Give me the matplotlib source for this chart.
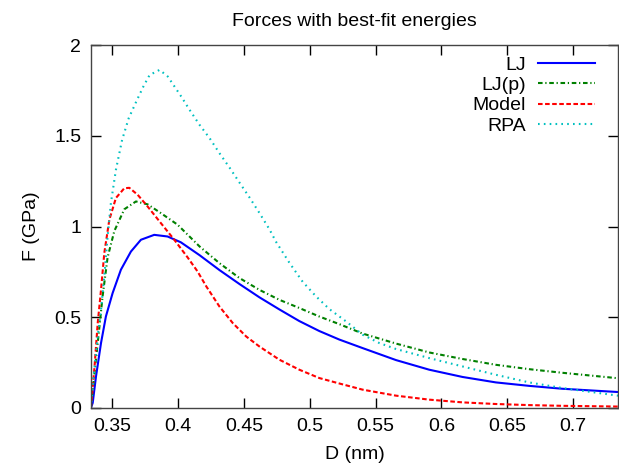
import matplotlib
matplotlib.use("Agg")
import matplotlib.pyplot as plt
from matplotlib.ticker import FormatStrFormatter

title = "Forces with best-fit energies"
xlabel = "D (nm)"
ylabel = "F (GPa)"
labels = ["LJ", "LJ(p)", "Model", "RPA"]

D_lj = [0.3339, 0.3353, 0.3378, 0.3416, 0.3453, 0.3504, 0.3567, 0.3643, 0.3719, 0.3820,
        0.3921, 0.4022, 0.4164, 0.4315, 0.4467, 0.4618, 0.4770, 0.4921, 0.5073, 0.5225,
        0.5402, 0.5655, 0.5907, 0.6160, 0.6413, 0.6665, 0.6918, 0.734]
F_lj = [0.0, 0.028, 0.174, 0.358, 0.504, 0.633, 0.762, 0.862, 0.927, 0.954,
        0.945, 0.913, 0.842, 0.760, 0.683, 0.610, 0.543, 0.479, 0.424, 0.377,
        0.330, 0.264, 0.211, 0.171, 0.141, 0.122, 0.106, 0.088]

D_ljp = [0.3339, 0.3353, 0.3391, 0.3428, 0.3466, 0.3517, 0.3593, 0.3681, 0.3770, 0.3870,
         0.3997, 0.4164, 0.4315, 0.4467, 0.4618, 0.4770, 0.4921, 0.5073, 0.5225, 0.5402,
         0.5655, 0.5907, 0.6160, 0.6413, 0.6665, 0.6918, 0.734]
F_ljp = [0.0, 0.101, 0.358, 0.615, 0.830, 0.975, 1.095, 1.138, 1.122, 1.074,
         1.010, 0.890, 0.798, 0.716, 0.651, 0.596, 0.551, 0.504, 0.462, 0.410,
         0.355, 0.306, 0.270, 0.238, 0.214, 0.194, 0.164]

D_model = [0.3339, 0.3365, 0.3391, 0.3416, 0.3441, 0.3479, 0.3529, 0.3593, 0.3631, 0.3694,
           0.3770, 0.3870, 0.3972, 0.4073, 0.4149, 0.4215, 0.4315, 0.4416, 0.4518, 0.4618,
           0.4770, 0.4921, 0.5073, 0.5225, 0.5402, 0.5655, 0.5907, 0.6160, 0.6413, 0.6665,
           0.6918, 0.734]
F_model = [0.0, 0.211, 0.468, 0.651, 0.854, 1.037, 1.157, 1.211, 1.213, 1.175,
           1.110, 1.019, 0.927, 0.830, 0.752, 0.670, 0.559, 0.468, 0.394, 0.339,
           0.266, 0.211, 0.165, 0.135, 0.101, 0.068, 0.046, 0.031, 0.022, 0.016,
           0.012, 0.008]

D_rpa = [0.3339, 0.3365, 0.3391, 0.3416, 0.3441, 0.3466, 0.3491, 0.3529, 0.3576, 0.3626,
         0.3689, 0.3740, 0.3785, 0.3861, 0.3923, 0.3974, 0.4025, 0.4088, 0.4164, 0.4240,
         0.4315, 0.4391, 0.4467, 0.4543, 0.4618, 0.4694, 0.4745, 0.4846, 0.4947, 0.5048,
         0.5149, 0.5276, 0.5402, 0.5528, 0.5655, 0.5907, 0.6160, 0.6413, 0.6665, 0.6918,
         0.734]
F_rpa = [0.0, 0.211, 0.394, 0.541, 0.725, 0.945, 1.129, 1.312, 1.477, 1.596,
         1.697, 1.775, 1.835, 1.863, 1.826, 1.771, 1.716, 1.643, 1.560, 1.487,
         1.404, 1.325, 1.242, 1.160, 1.075, 0.985, 0.915, 0.800, 0.695, 0.615,
         0.545, 0.477, 0.404, 0.358, 0.325, 0.275, 0.229, 0.183, 0.141, 0.110,
         0.068]

x_ticks = [0.35, 0.4, 0.45, 0.5, 0.55, 0.6, 0.65, 0.7]
y_ticks = [0, 0.5, 1, 1.5, 2]

plt.rcParams['font.family'] = ['Liberation Sans', 'DejaVu Sans']

fig = plt.figure(figsize=(6.19, 4.70), dpi=100)
ax = fig.add_axes([91/619, 1 - 408/470, (618 - 91)/619, (408 - 45)/470])

series = [
    (D_lj, F_lj, dict(color='#0000ff', ls='-')),
    (D_ljp, F_ljp, dict(color='#008000', ls=(0, (2.2, 1.3, 0.6, 1.3)))),
    (D_model, F_model, dict(color='#ff0000', ls=(0, (2.2, 1.2)))),
    (D_rpa, F_rpa, dict(color='#00c0c0', ls=(0, (0.8, 2.0)))),
]
for (xs, ys, st), lab in zip(series, labels):
    ax.plot(xs, ys, lw=1.5, label=lab, **st)

ax.set_xlim(0.334, 0.734)
ax.set_ylim(0, 2)
ax.set_xticks(x_ticks)
ax.set_yticks(y_ticks)
ax.xaxis.set_major_formatter(FormatStrFormatter('%g'))
ax.yaxis.set_major_formatter(FormatStrFormatter('%g'))
ax.tick_params(direction='in', top=True, right=True, length=7, width=1,
               labelsize=14, pad=7, colors='#000000')
for s in ax.spines.values():
    s.set_linewidth(1)
    s.set_color('#444444')

ax.set_title(title, fontsize=14, pad=14)
ax.set_xlabel(xlabel, fontsize=14, labelpad=8)
ax.set_ylabel(ylabel, fontsize=14, labelpad=10)

# gnuplot-style key: right-aligned labels followed by line samples
key_y_px = [63, 83, 103.5, 124]
for (xs, ys, st), lab, ypx in zip(series, labels, key_y_px):
    ya = (408 - ypx) / 363
    ax.text((526 - 91) / 527, ya, lab, transform=ax.transAxes, ha='right',
            va='center_baseline', fontsize=14)
    ax.plot([(538 - 91) / 527, (595 - 91) / 527], [ya, ya], transform=ax.transAxes,
            lw=1.5, clip_on=False, **st)

fig.savefig('out.png', dpi=100)
